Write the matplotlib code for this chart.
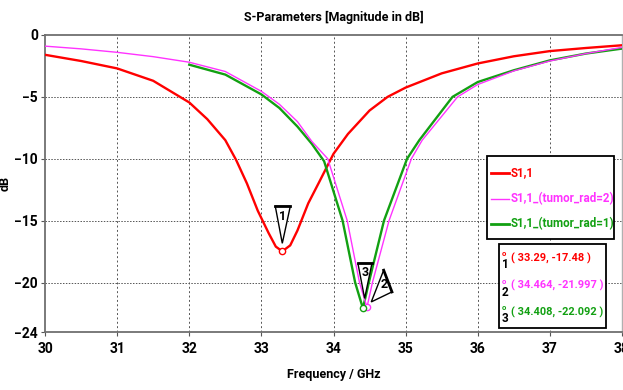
import matplotlib
matplotlib.use("Agg")
import matplotlib.pyplot as plt
import matplotlib.transforms as mtransforms
from matplotlib.patches import Polygon, Rectangle
from matplotlib.lines import Line2D

plt.rcParams['font.family'] = ['Roboto', 'DejaVu Sans']
plt.rcParams['font.weight'] = 'bold'

# ---- data ----
freq_red = [30, 30.5, 31, 31.5, 32, 32.25, 32.5, 32.65, 32.8, 32.95, 33.1, 33.2, 33.29,
            33.4, 33.5, 33.65, 33.8, 34, 34.2, 34.5, 34.75, 35, 35.5, 36, 36.5, 37, 37.5, 38]
s11_red = [-1.6, -2.1, -2.7, -3.7, -5.45, -6.8, -8.5, -10.1, -12.0, -14.2, -16.0, -17.1, -17.48,
           -17.0, -15.8, -13.6, -11.9, -9.6, -8.0, -6.1, -5.0, -4.25, -3.1, -2.3, -1.72, -1.3, -1.05, -0.83]

freq_mag = [30, 30.5, 31, 31.5, 32, 32.5, 33, 33.25, 33.5, 33.7, 33.92, 34.19, 34.36, 34.464,
            34.54, 34.77, 35.08, 35.23, 35.72, 36, 36.5, 37, 37.5, 38]
s11_mag = [-0.9, -1.12, -1.4, -1.75, -2.2, -2.95, -4.55, -5.6, -7.0, -8.6, -10.0, -15.0, -20.0, -21.997,
           -20.0, -15.0, -10.0, -8.5, -5.0, -4.0, -2.9, -2.1, -1.5, -1.0]

freq_grn = [32, 32.5, 33, 33.25, 33.5, 33.7, 33.87, 34.126, 34.30, 34.408,
            34.49, 34.70, 35.02, 35.19, 35.65, 36, 36.5, 37, 37.5, 38]
s11_grn = [-2.4, -3.2, -4.8, -5.9, -7.4, -8.8, -10.2, -15.0, -20.0, -22.092,
           -20.0, -15.0, -10.0, -8.5, -5.0, -3.8, -2.85, -2.05, -1.5, -1.1]

labels = ['S1,1', 'S1,1_(tumor_rad=2)', 'S1,1_(tumor_rad=1)']
colors = ['#ff0000', '#ff33ff', '#12a012']
marker_pts = [(33.29, -17.48), (34.464, -21.997), (34.408, -22.092)]
marker_txt = ['( 33.29, -17.48 )', '( 34.464, -21.997 )', '( 34.408, -22.092 )']
xticks = [30, 31, 32, 33, 34, 35, 36, 37, 38]
yticks = [0, -5, -10, -15, -20, -24]

W, H = 623, 390
fig = plt.figure(figsize=(W / 100, H / 100), dpi=100)
ax = fig.add_axes([45 / W, 1 - 332 / H, (622 - 45) / W, (332 - 35) / H])

def fx(px):
    return px / W

def fy(py):
    return 1 - py / H

ax.plot(freq_red, s11_red, color=colors[0], lw=1.7, zorder=3)
ax.plot(freq_grn, s11_grn, color=colors[2], lw=1.7, zorder=3)
ax.plot(freq_mag, s11_mag, color=colors[1], lw=1.0, zorder=4)

ax.set_xlim(30, 38)
ax.set_ylim(-24, 0)
ax.set_xticks(xticks)
ax.set_yticks(yticks)
ax.tick_params(axis='both', labelsize=10, direction='out', length=3, width=0.8,
               colors='#555555', labelcolor='black', pad=2)
ax.tick_params(axis='x', pad=4)
for lab in ax.get_xticklabels() + ax.get_yticklabels():
    lab.set_fontweight('bold')

for x in xticks[1:-1]:
    ax.axvline(x, color='#555555', lw=0.7, ls=(0, (2, 2.5)), zorder=1)
for y in yticks[1:-1]:
    ax.axhline(y, color='#555555', lw=0.7, ls=(0, (1.5, 1.5)), zorder=1)

for side in ['left', 'bottom', 'top']:
    ax.spines[side].set_color('#707070')
    ax.spines[side].set_linewidth(1.3)
ax.spines['right'].set_color('#b0b0b0')
ax.spines['right'].set_linewidth(1.0)

ax.set_title('S-Parameters [Magnitude in dB]', fontsize=9, fontweight='bold', pad=10)
ax.set_xlabel('Frequency / GHz', fontsize=9, fontweight='bold', labelpad=9)
ax.set_ylabel('dB', fontsize=9, fontweight='bold')
ax.yaxis.set_label_coords((12 - 45) / 577, 0.5)

# marker circles
for (mx, my), c in zip(marker_pts, colors):
    ax.plot([mx], [my], marker='o', ms=4.5, mfc='white', mec=c, mew=1.0, zorder=6)

# marker pennants (pixel offsets, y down)
pennants = [
    ([(-7, -45), (8, -45), (0, -8)], (0.5, -35), '1'),
    ([(16.7, -37), (25, -15.3), (4.3, -5.3)], (17, -23), '2'),
    ([(-5, -45), (9, -45), (1.7, -10)], (2, -36), '3'),
]
for (mx, my), (verts, tpos, num) in zip(marker_pts, pennants):
    tr = fig.dpi_scale_trans + mtransforms.ScaledTranslation(mx, my, ax.transData)
    v = [(a / 100, -b / 100) for a, b in verts]
    poly = Polygon(v, closed=True, facecolor='white', edgecolor='black', lw=1.0,
                   transform=tr, zorder=7, clip_on=False)
    ax.add_patch(poly)
    ax.add_line(Line2D([v[0][0], v[1][0]], [v[0][1], v[1][1]], color='black', lw=2.0,
                       transform=tr, zorder=8, clip_on=False))
    ax.text(tpos[0] / 100, -tpos[1] / 100, num, transform=tr, ha='center', va='center',
            fontsize=9, fontweight='bold', color='black', zorder=9)

# legend box
fig.patches.append(Rectangle((fx(487), fy(239)), fx(614) - fx(487), fy(156) - fy(239),
                             transform=fig.transFigure, facecolor='white', edgecolor='black',
                             lw=1.3, zorder=10))
for i, (lab, c) in enumerate(zip(labels, colors)):
    yy = [173, 199, 224][i]
    lw = 1.0 if i == 1 else 2.0
    fig.lines.append(Line2D([fx(491), fx(509)], [fy(yy), fy(yy)], color=c, lw=lw,
                            transform=fig.transFigure, zorder=11))
    fig.text(fx(511), fy(yy), lab, color=c, fontsize=8.4, fontweight='bold',
             ha='left', va='center', zorder=11)

# marker value box
fig.patches.append(Rectangle((fx(499), fy(328)), fx(606) - fx(499), fy(244) - fy(328),
                             transform=fig.transFigure, facecolor='white', edgecolor='black',
                             lw=1.3, zorder=10))
for i, (txt, c) in enumerate(zip(marker_txt, colors)):
    yy = [258, 285, 312][i]
    fig.text(fx(504), fy(yy - 4), 'o', color=c, fontsize=5.5, fontweight='bold',
             ha='center', va='center', zorder=11)
    fig.text(fx(505), fy(yy + 7), str(i + 1), color='black', fontsize=8.5, fontweight='bold',
             ha='center', va='center', zorder=11)
    fig.text(fx(511), fy(yy), txt, color=c, fontsize=7.9, fontweight='bold',
             ha='left', va='center', zorder=11)

fig.savefig('out.png', dpi=100)
